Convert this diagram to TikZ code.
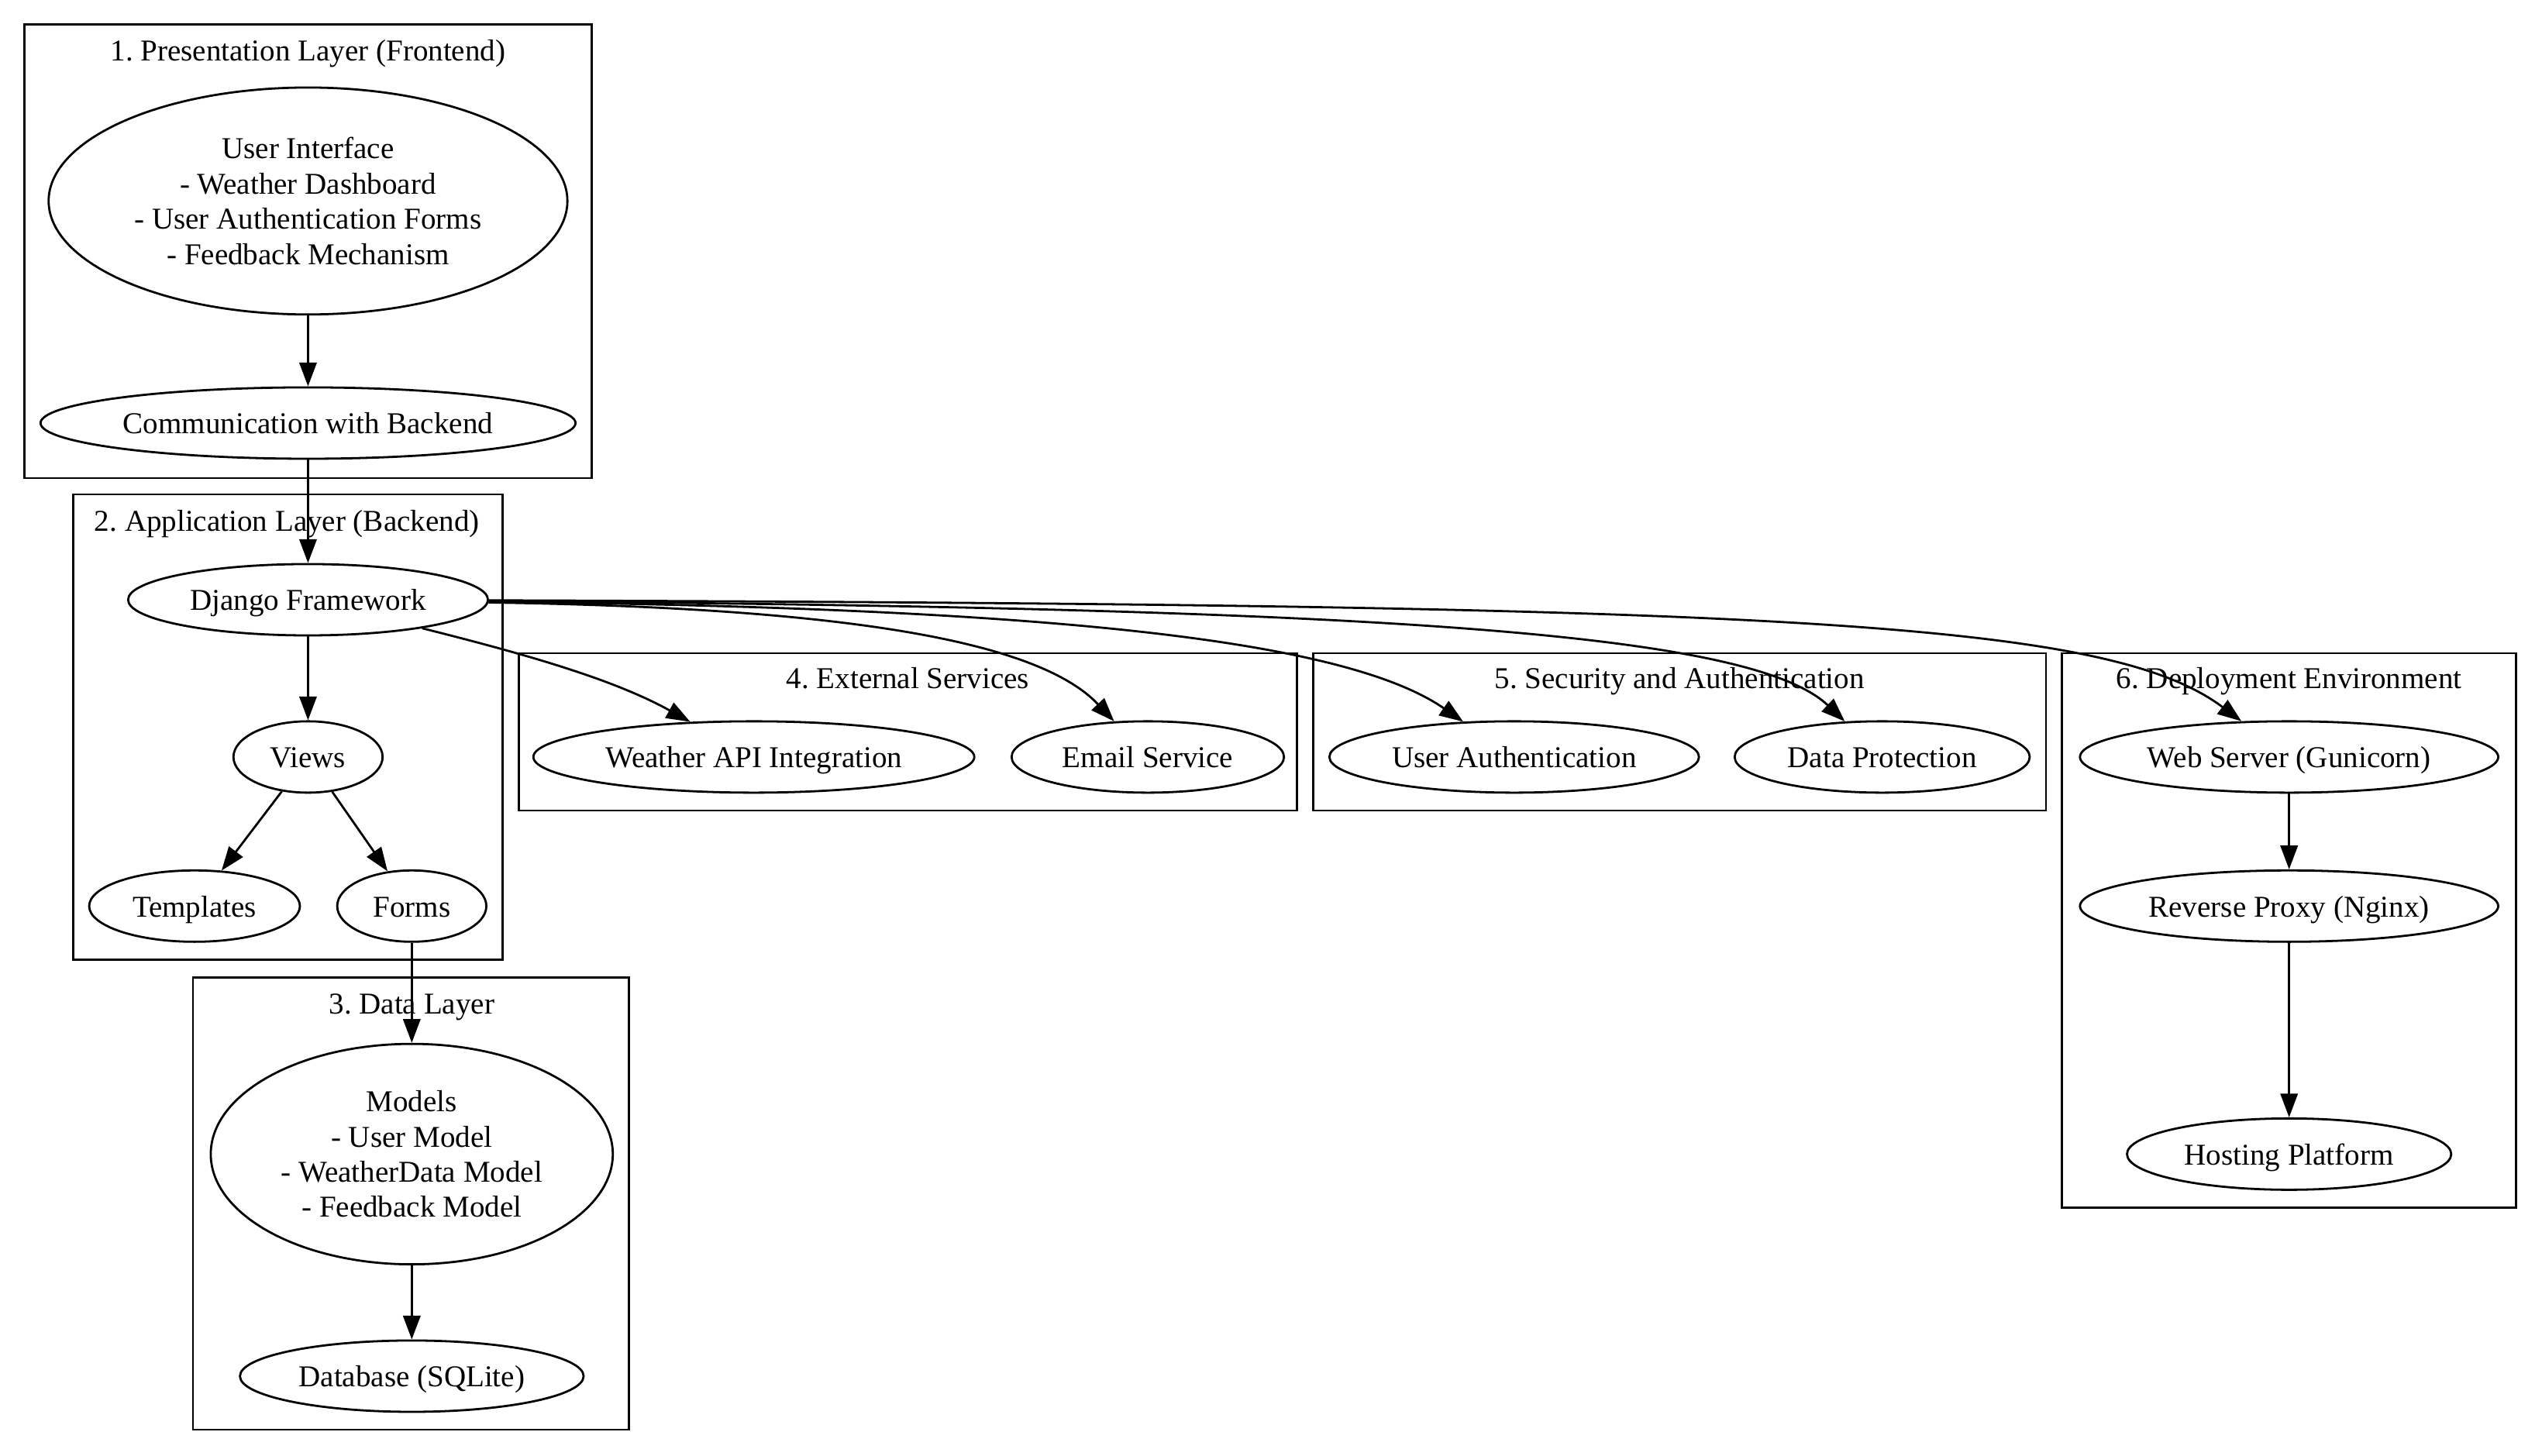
\documentclass[tikz,border=0pt]{standalone}
\usepackage{fontspec}
\setmainfont{Liberation Serif}
\usetikzlibrary{shapes.geometric,arrows.meta}
\frenchspacing
\begin{document}
\begin{tikzpicture}[x=0.75pt,y=-0.75pt,
  every node/.style={font=\fontsize{14}{16.3}\selectfont},
  oneline/.style={text height=12.8pt,text depth=3pt},
  nd/.style={ellipse,draw,line width=1pt,inner sep=0pt,minimum height=33pt,align=center},
  cl/.style={draw,line width=1pt},
  arr/.style={-{Triangle[length=11pt,width=8pt]},line width=1pt}]
\useasboundingbox (0,0) rectangle (1568,897.8);
% clusters
\draw[cl] (15,15) rectangle (365,295);
\node[oneline] (l1) at (190,31) {1. Presentation Layer (Frontend)};
\draw[cl] (45,305) rectangle (310,592);
\node[oneline] (l2) at (177,321) {2. Application Layer (Backend)};
\draw[cl] (119,603) rectangle (388,882);
\node[oneline] (l3) at (254,619) {3. Data Layer};
\draw[cl] (320,403) rectangle (800,500);
\node[oneline] (l4) at (560,418) {4. External Services};
\draw[cl] (810,403) rectangle (1262,500);
\node[oneline] (l5) at (1036,418) {5. Security and Authentication};
\draw[cl] (1272,403) rectangle (1552,745);
\node[oneline] (l6) at (1412,418) {6. Deployment Environment};
% nodes
\node[nd,minimum width=240pt,minimum height=105pt] (ui) at (190,124) {User Interface\\- Weather Dashboard\\- User Authentication Forms\\- Feedback Mechanism};
\node[nd,oneline,minimum width=247.5pt] (comm) at (190,261) {Communication with Backend};
\node[nd,oneline,minimum width=166.5pt] (django) at (190,370) {Django Framework};
\node[nd,oneline,minimum width=69pt] (views) at (190,467) {Views};
\node[nd,oneline,minimum width=97.5pt] (templates) at (120,559) {Templates};
\node[nd,oneline,minimum width=69pt] (forms) at (254,559) {Forms};
\node[nd,minimum width=186pt,minimum height=102pt] (models) at (254,712) {Models\\- User Model\\- WeatherData Model\\- Feedback Model};
\node[nd,oneline,minimum width=159pt] (db) at (254,849) {Database (SQLite)};
\node[nd,oneline,minimum width=204pt] (weather) at (465,467) {Weather API Integration};
\node[nd,oneline,minimum width=126pt] (email) at (708,467) {Email Service};
\node[nd,oneline,minimum width=171pt] (userauth) at (934,467) {User Authentication};
\node[nd,oneline,minimum width=136.5pt] (dataprot) at (1161,467) {Data Protection};
\node[nd,oneline,minimum width=193.5pt] (web) at (1412,467) {Web Server (Gunicorn)};
\node[nd,oneline,minimum width=193.5pt] (proxy) at (1412,559) {Reverse Proxy (Nginx)};
\node[nd,oneline,minimum width=150pt] (hosting) at (1412,712) {Hosting Platform};
% edges
\draw[arr] (ui) -- (comm);
\draw[arr] (comm) -- (django);
\draw[arr] (django) -- (views);
\draw[arr] (views) -- (templates);
\draw[arr] (views) -- (forms);
\draw[arr] (forms) -- (models);
\draw[arr] (models) -- (db);
\draw[arr] (web) -- (proxy);
\draw[arr] (proxy) -- (hosting);
\draw[arr] (django) .. controls (330,405) and (380,420) .. (weather);
\draw[arr] (django) .. controls (520,375) and (640,395) .. (email);
\draw[arr] (django) .. controls (650,375) and (830,395) .. (userauth);
\draw[arr] (django) .. controls (850,375) and (1080,390) .. (dataprot);
\draw[arr] (django) .. controls (1100,373) and (1300,383) .. (web);
\end{tikzpicture}
\end{document}
